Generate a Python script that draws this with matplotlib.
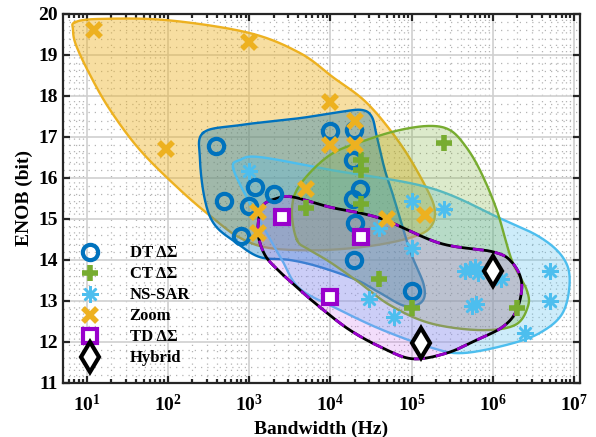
import numpy as np
import matplotlib
matplotlib.use("Agg")
import matplotlib.pyplot as plt
from matplotlib.ticker import LogLocator, MultipleLocator, FixedLocator, NullFormatter

# ---------------- data (Bandwidth in Hz, ENOB in bit) ----------------
dt_bw   = [390, 490, 790, 1180, 1000, 2000, 1e4, 1.95e4, 1.9e4, 2.3e4, 1.9e4, 2e4, 1.95e4, 1e5]
dt_enob = [16.78, 15.44, 14.59, 15.77, 15.32, 15.60, 17.15, 17.17, 16.45, 15.72, 15.48, 14.90, 14.00, 13.24]

ct_bw   = [2.4e4, 2.4e4, 2.4e4, 5000, 2.5e5, 4e4, 1e5, 2e6]
ct_enob = [16.45, 16.20, 15.37, 15.26, 16.85, 13.53, 12.84, 12.82]

ns_bw   = [1000, 1e5, 2.5e5, 4e4, 1e5, 3e4, 6e4, 4.5e5, 5.2e5, 6e5, 6.5e5, 1.25e6, 5.6e5, 6.2e5, 5e6, 5e6, 2.5e6]
ns_enob = [16.17, 15.45, 15.24, 14.77, 14.30, 13.04, 12.60, 13.72, 13.78, 13.82, 13.68, 13.53, 12.88, 12.92, 13.74, 13.00, 12.21]

zoom_bw   = [12.4, 1000, 95, 1e4, 2e4, 1e4, 2e4, 5000, 1300, 1300, 5e4, 1.45e5]
zoom_enob = [19.60, 19.31, 16.70, 17.85, 17.40, 16.80, 16.80, 15.72, 15.18, 14.67, 15.00, 15.10]

td_bw   = [2500, 2.4e4, 1e4]
td_enob = [15.04, 14.57, 13.10]

hy_bw   = [1.3e5, 1e6]
hy_enob = [11.98, 13.74]

# region outlines (log10 bandwidth, ENOB)
zoom_reg_lbw  = [0.856, 1.164, 1.988, 2.996, 3.623, 4.029, 4.448, 4.854, 5.161, 5.284, 5.223, 4.977, 4.485, 3.870, 3.255, 2.886, 2.578, 2.148, 1.656, 1.287, 1.041, 0.868, 0.831]
zoom_reg_enob = [19.80, 19.88, 19.85, 19.54, 19.05, 18.46, 17.83, 16.85, 15.83, 15.22, 14.78, 14.54, 14.34, 14.24, 14.29, 14.54, 14.98, 15.71, 16.68, 17.66, 18.51, 19.24, 19.61]

dt_reg_lbw  = [2.432, 2.886, 3.623, 4.115, 4.385, 4.510, 4.570, 4.669, 4.770, 4.977, 5.149, 5.124, 4.915, 4.608, 4.325, 3.870, 3.501, 3.132, 2.849, 2.578, 2.455, 2.394]
dt_reg_enob = [17.10, 17.29, 17.46, 17.61, 17.66, 17.49, 17.02, 16.20, 15.58, 14.24, 13.39, 12.98, 12.88, 13.20, 13.51, 13.83, 14.00, 14.07, 14.41, 14.85, 15.46, 16.44]

ns_reg_lbw  = [2.802, 2.886, 3.132, 3.993, 5.223, 6.084, 6.576, 6.859, 6.945, 6.859, 6.576, 6.170, 5.629, 5.260, 4.645, 4.115, 3.623, 3.403, 3.194, 2.987]
ns_reg_enob = [16.24, 16.44, 16.51, 16.20, 15.76, 15.02, 14.56, 14.07, 13.51, 12.71, 12.22, 11.93, 11.73, 11.85, 12.29, 12.78, 13.30, 14.00, 14.73, 15.46]

ct_reg_lbw  = [3.587, 3.526, 3.623, 3.993, 4.448, 4.854, 5.223, 5.469, 5.654, 5.838, 6.047, 6.231, 6.416, 6.428, 6.268, 5.838, 5.223, 4.731, 4.362, 3.993, 3.747]
ct_reg_enob = [14.49, 15.22, 15.83, 16.56, 16.93, 17.17, 17.27, 17.17, 16.80, 16.20, 15.22, 14.00, 13.27, 12.85, 12.41, 12.29, 12.46, 12.90, 13.44, 13.95, 14.24]

td_reg_lbw  = [3.157, 3.317, 3.526, 3.993, 4.608, 5.346, 5.998, 6.231, 6.354, 6.293, 6.121, 5.801, 5.432, 5.014, 4.645, 4.239, 3.870, 3.623, 3.378, 3.194, 3.108]
td_reg_enob = [15.29, 15.49, 15.54, 15.29, 15.02, 14.41, 14.20, 13.95, 13.44, 12.78, 12.37, 12.05, 11.73, 11.59, 11.85, 12.29, 12.85, 13.27, 13.71, 14.12, 14.68]

x_ticks = [1e1, 1e2, 1e3, 1e4, 1e5, 1e6, 1e7]
x_ticklabels = [r'$\mathregular{10^{%d}}$' % k for k in range(1, 8)]
y_ticks = list(range(11, 21))

# ---------------- style ----------------
plt.rcParams['font.family'] = ['Liberation Serif', 'DejaVu Serif']
plt.rcParams['font.weight'] = 'bold'
plt.rcParams['mathtext.fontset'] = 'custom'
plt.rcParams['mathtext.rm'] = 'Liberation Serif:bold'
plt.rcParams['mathtext.it'] = 'Liberation Serif:bold:italic'
plt.rcParams['mathtext.bf'] = 'Liberation Serif:bold'

C_DT = '#0072BD'
C_CT = '#77AC30'
C_NS = '#4DBEEE'
C_ZM = '#EDB120'
C_TD = '#9900CC'
C_HY = 'black'

fig = plt.figure(figsize=(5.96, 4.37), dpi=100)
ax = fig.add_axes([63/596, 1-383/437, (580-63)/596, (383-14)/437])


def closed_spline(lx, y, n=40):
    P = np.column_stack([lx, y])
    N = len(P)
    t = np.linspace(0, 1, n, endpoint=False)[:, None]
    out = []
    for i in range(N):
        p0, p1, p2, p3 = P[(i-1) % N], P[i], P[(i+1) % N], P[(i+2) % N]
        seg = 0.5*((2*p1) + (-p0+p2)*t + (2*p0-5*p1+4*p2-p3)*t**2 + (-p0+3*p1-3*p2+p3)*t**3)
        out.append(seg)
    out = np.vstack(out + [out[0][:1]])
    return 10**out[:, 0], out[:, 1]


def region(lx, y, color, alpha, lw=1.7, z=1):
    xs, ys = closed_spline(lx, y)
    ax.fill(xs, ys, color=color, alpha=alpha, lw=0, zorder=z)
    ax.plot(xs, ys, color=color, lw=lw, zorder=z+0.5)
    return xs, ys

region(zoom_reg_lbw, zoom_reg_enob, C_ZM, 0.42, z=1)
region(dt_reg_lbw, dt_reg_enob, C_DT, 0.35, z=2)
region(ns_reg_lbw, ns_reg_enob, C_NS, 0.28, z=3)
region(ct_reg_lbw, ct_reg_enob, C_CT, 0.25, z=4)
xs, ys = closed_spline(td_reg_lbw, td_reg_enob)
ax.fill(xs, ys, color='#CC66F0', alpha=0.22, lw=0, zorder=5)
ax.plot(xs, ys, color='black', lw=2.0, zorder=5.5)
ax.plot(xs, ys, color=C_TD, lw=2.0, ls=(0, (4, 4)), zorder=5.6)

# ---------------- markers ----------------
h_dt, = ax.plot(dt_bw, dt_enob, ls='none', marker='o', ms=11, mew=3, mfc='none', mec=C_DT, zorder=10, label='DT ΔΣ')
h_ct, = ax.plot(ct_bw, ct_enob, ls='none', marker='+', ms=12, mew=4, mec=C_CT, zorder=10, label='CT ΔΣ')
h_ns, = ax.plot(ns_bw, ns_enob, ls='none', marker=(8, 2, 0), ms=12, mew=1.8, mec=C_NS, zorder=10, label='NS-SAR')
h_zm, = ax.plot(zoom_bw, zoom_enob, ls='none', marker='x', ms=10, mew=4, mec=C_ZM, zorder=10, label='Zoom')
h_td, = ax.plot(td_bw, td_enob, ls='none', marker='s', ms=10, mew=3, mfc='white', mec=C_TD, zorder=10, label='TD ΔΣ')
h_hy, = ax.plot(hy_bw, hy_enob, ls='none', marker='d', ms=15, mew=3, mfc='white', mec=C_HY, zorder=10, label='Hybrid')

# ---------------- axes ----------------
ax.set_xscale('log')
ax.set_xlim(5.1, 1.18e7)
ax.set_ylim(11, 20)
ax.xaxis.set_major_locator(FixedLocator(x_ticks))
ax.set_xticklabels(x_ticklabels)
ax.xaxis.set_minor_locator(LogLocator(base=10, subs=np.arange(2, 10)))
ax.xaxis.set_minor_formatter(NullFormatter())
ax.set_yticks(y_ticks)
ax.yaxis.set_minor_locator(MultipleLocator(0.2))

ax.grid(True, which='major', color='#d0d0d0', lw=1.2, ls='-', zorder=0)
ax.grid(True, which='minor', color='#b4b4b4', lw=0.9, ls=(0, (1, 4)), zorder=0)
ax.set_axisbelow(True)

ax.tick_params(which='both', direction='in', top=True, right=True, width=1.6, color='#262626')
ax.tick_params(which='major', length=5, labelsize=14)
ax.tick_params(axis='x', which='minor', length=3)
ax.tick_params(axis='y', which='minor', length=0)
ax.tick_params(axis='x', pad=8)
for s in ax.spines.values():
    s.set_linewidth(1.6)
    s.set_color('#262626')

ax.set_xlabel('Bandwidth (Hz)', fontsize=14, fontweight='bold')
ax.set_ylabel('ENOB (bit)', fontsize=14, fontweight='bold')

leg = ax.legend(handles=[h_dt, h_ct, h_ns, h_zm, h_td, h_hy], loc='lower left',
                bbox_to_anchor=(0.0, 0.009), frameon=False, fontsize=12,
                labelspacing=0.3, handletextpad=1.6, borderpad=0.3, handlelength=1.6)
leg.set_zorder(20)

fig.savefig('out.png', dpi=100)
